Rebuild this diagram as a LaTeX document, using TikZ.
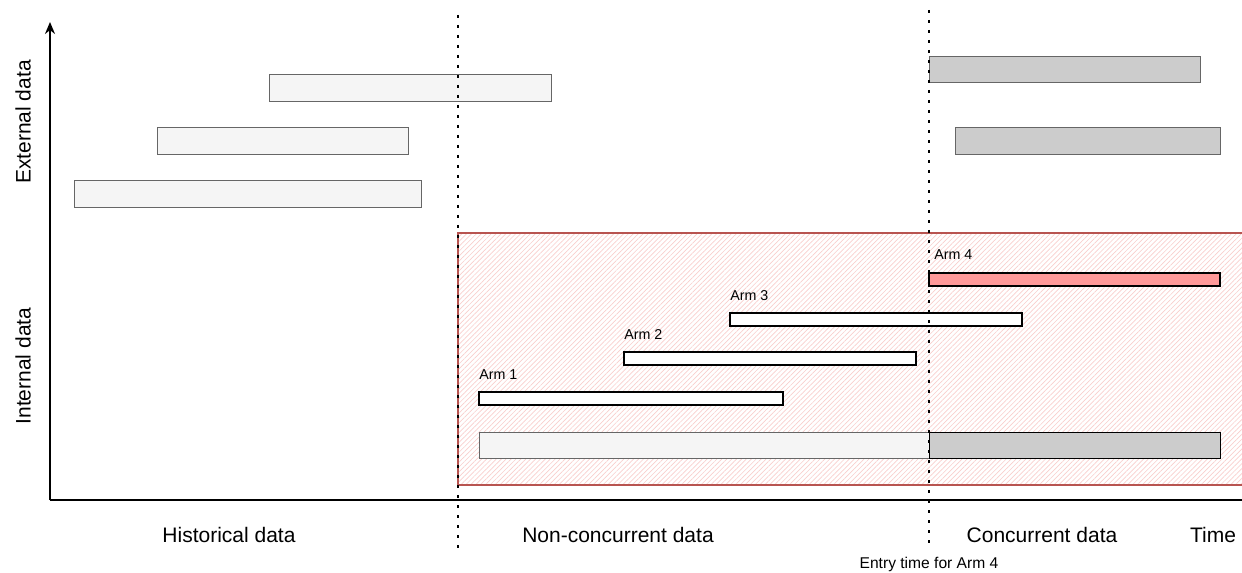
\documentclass[tikz,border=0pt]{standalone}
\usepackage{fontspec}
\setmainfont{Liberation Sans}
\usetikzlibrary{patterns.meta, arrows.meta}
\definecolor{histfill}{HTML}{F5F5F5}
\definecolor{concfill}{HTML}{CCCCCC}
\definecolor{barline}{HTML}{666666}
\definecolor{armred}{HTML}{FF9999}
\definecolor{zoneline}{HTML}{B85450}
\definecolor{hatchred}{HTML}{F8CECC}
\tikzset{
  histbar/.style={fill=histfill, draw=barline, line width=0.75pt},
  concbar/.style={fill=concfill, draw=barline, line width=0.75pt},
  armbar/.style={fill=white, draw=black, line width=0.9pt},
  sepline/.style={line width=2.2pt, dash pattern=on 2.2pt off 5.3pt},
  axlbl/.style={inner sep=0pt, font=\fontsize{15.75}{18}\selectfont},
  armlbl/.style={inner sep=0pt, anchor=west, font=\fontsize{10.7}{12}\selectfont},
}
\begin{document}
\begin{tikzpicture}[x=0.75pt, y=-0.75pt]
  \useasboundingbox (0,0) rectangle (1242,573);

  % Internal data zone (hatched)
  \fill[pattern={Lines[angle=45, distance=2.6pt, line width=0.5pt]}, pattern color=hatchred]
    (458,233) rectangle (1242,485);
  \draw[zoneline, line width=1.1pt] (1242,233) -- (458,233) -- (458,485) -- (1242,485);

  % Axes
  \coordinate (origin) at (50,500);
  \coordinate (ytop) at (50,22);
  \coordinate (xend) at (1242,500);
  \draw[line width=1.4pt, -{Stealth[length=9pt, width=7.5pt]}] (origin) -- (ytop);
  \draw[line width=1.4pt] (origin) -- (xend);

  % External data bars
  \foreach \xa/\ya/\xb in {269/75/551, 157/128/408, 74/181/421}
    \draw[histbar] (\xa,\ya) rectangle (\xb,\ya+27);
  \draw[concbar] (929,57) rectangle (1200,83);
  \draw[concbar] (955,128) rectangle (1220,155);

  % Arms
  \foreach \xa/\ya/\xb/\n in {479/392/783/1, 624/352/916/2, 730/313/1022/3} {
    \draw[armbar] (\xa,\ya) rectangle (\xb,\ya+13);
    \node[armlbl] (arm\n) at (\xa,\ya-17) {Arm \n};
  }
  \draw[armbar, fill=armred] (929,273) rectangle (1220,286);
  \node[armlbl] (arm4) at (934,255) {Arm 4};

  % Control bar at the bottom
  \draw[histbar] (479,432) rectangle (929,458);
  \draw[concbar, draw=black] (929,432) rectangle (1220,458);

  % Dotted separators
  \coordinate (sepa top) at (458,15);
  \coordinate (sepa bot) at (458,548);
  \coordinate (sepb top) at (929,10);
  \coordinate (sepb bot) at (929,548);
  \draw[sepline] (sepa top) -- (sepa bot);
  \draw[sepline] (sepb top) -- (sepb bot);

  % Labels
  \node[axlbl, rotate=90] (ext) at (23,122) {External data};
  \node[axlbl, rotate=90] (int) at (23,366) {Internal data};
  \node[axlbl] (hist) at (229,535) {Historical data};
  \node[axlbl] (noncon) at (618,535) {Non-concurrent data};
  \node[axlbl] (conc) at (1042,535) {Concurrent data};
  \node[axlbl] (time) at (1213,535) {Time};
  \node[inner sep=0pt, font=\fontsize{11.7}{13}\selectfont] (entry) at (929,564) {Entry time for Arm 4};
\end{tikzpicture}
\end{document}
